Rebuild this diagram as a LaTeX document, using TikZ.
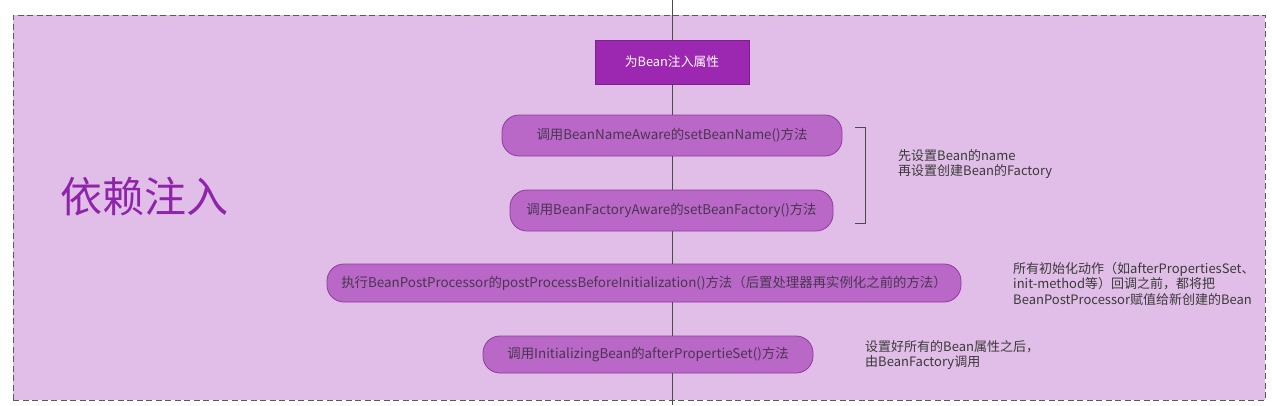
\documentclass[tikz,border=0pt]{standalone}
\usepackage{fontspec}
\setmainfont{Noto Sans CJK SC}
\definecolor{bgpurple}{HTML}{E1BEE7}
\definecolor{topfill}{HTML}{9C27B0}
\definecolor{stepfill}{HTML}{BA68C8}
\definecolor{stepdraw}{HTML}{8E3A9E}
\definecolor{steptext}{HTML}{4A3550}
\definecolor{sidetext}{HTML}{3A3A3A}
\definecolor{bigtext}{HTML}{8E24AA}
\definecolor{linegray}{HTML}{4A4A4A}
\definecolor{framegray}{HTML}{5A5A5A}
\begin{document}
\begin{tikzpicture}[x=1pt,y=-1pt,
  stepbox/.style={draw=stepdraw,line width=0.8pt,fill=stepfill,rounded corners=17pt,
    minimum height=#1,inner sep=0pt,text=steptext,font=\fontsize{13.4}{15}\selectfont},
  stepbox/.default=40pt,
  topbox/.style={fill=topfill,draw=topfill!80!black,line width=0.6pt,text=white,
    minimum width=154pt,minimum height=44pt,inner sep=0pt,font=\fontsize{12.8}{15}\selectfont},
  note/.style={anchor=north west,align=left,inner sep=0pt,text=sidetext,
    font=\fontsize{13}{15.5}\selectfont},
  flow/.style={draw=linegray,line width=0.8pt},
]
\useasboundingbox (0,0) rectangle (1272,405);
\node[draw=framegray,dash pattern=on 6pt off 3.5pt,line width=0.9pt,fill=bgpurple,
  minimum width=1252pt,minimum height=385pt,inner sep=0pt] (frame) at (639,207.5) {};

\coordinate (topend) at (672,0);
\coordinate (botend) at (672,405);

\node[topbox] (inject) at (672,62) {为Bean注入属性};
\node[stepbox=41pt,minimum width=340pt] (s1) at (672,135.5) {调用BeanNameAware的setBeanName()方法};
\node[stepbox=41pt,minimum width=323pt] (s2) at (671.5,210.5) {调用BeanFactoryAware的setBeanFactory()方法};
\node[stepbox=38pt,minimum width=634pt] (s3) at (644,283) {执行BeanPostProcessor的postProcessBeforeInitialization()方法（后置处理器再实例化之前的方法）};
\node[stepbox=37pt,minimum width=330pt] (s4) at (648,354.5) {调用InitializingBean的afterPropertieSet()方法};

\draw[flow] (topend) -- (inject.north);
\draw[flow] (inject.south) -- (inject.south |- s1.north);
\draw[flow] (s1.south -| topend) -- (s2.north -| topend);
\draw[flow] (s2.south -| topend) -- (s3.north -| topend);
\draw[flow] (s3.south -| topend) -- (s4.north -| topend);
\draw[flow] (s4.south -| topend) -- (botend);

\coordinate (b1) at (855,127);
\coordinate (b2) at (865,127);
\coordinate (b3) at (865,223);
\coordinate (b4) at (855,223);
\draw[flow] (b1) -- (b2) -- (b3) -- (b4);

\node[note] (n1) at (898,149) {先设置Bean的name\\再设置创建Bean的Factory};
\node[note] (n2) at (1013,262) {所有初始化动作（如afterPropertiesSet、\\init-method等）回调之前，都将把\\BeanPostProcessor赋值给新创建的Bean};
\node[note] (n3) at (865,340) {设置好所有的Bean属性之后，\\由BeanFactory调用};

\node[text=bigtext,font=\fontsize{42}{44}\selectfont,inner sep=0pt] (title) at (144,197) {依赖注入};
\end{tikzpicture}
\end{document}
